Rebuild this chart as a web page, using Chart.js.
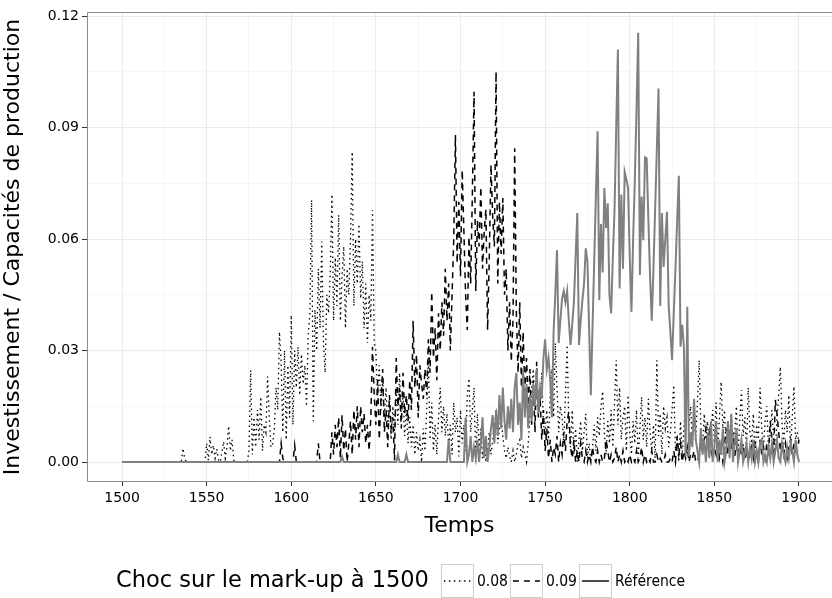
<!DOCTYPE html>
<html lang="fr">
<head>
<meta charset="utf-8">
<title>Choc sur le mark-up</title>
<script src="https://cdn.jsdelivr.net/npm/chart.js@4.4.1/dist/chart.umd.min.js"></script>
<style>
  html, body { margin: 0; padding: 0; background: #ffffff; }
  #wrap { width: 832px; height: 598px; overflow: hidden; }
</style>
</head>
<body>
<div id="wrap"><canvas id="chart-invest" width="832" height="598"></canvas></div>
<script>
// Investissement / capacités, en millièmes, une valeur par an de 1500 à 1900
const firstYear = 1500;

// choc de 0.08 sur le mark-up (pointillés)
const shock08 = [
  0, 0, 0, 0, 0, 0, 0, 0, 0, 0,
  0, 0, 0, 0, 0, 0, 0, 0, 0, 0,
  0, 0, 0, 0, 0, 0, 0, 0, 0, 0,
  0, 0, 0, 0, 0, 0, 3.7, 1, 0, 0,
  0, 0, 0, 0, 0, 0, 0, 0, 0, 0,
  5, 0.5, 6.8, 2, 4.5, 1, 3.5, 0.5, 0, 2.5,
  5.5, 1, 4, 9.7, 3, 6, 0.5, 0, 0, 0,
  0, 0, 0, 0, 0, 3, 24.7, 2, 12, 4,
  14, 6, 17.5, 3, 10, 8, 23, 12, 4, 5,
  9, 20, 14, 35, 27, 8, 30, 6, 26, 12,
  39.5, 10, 30, 20, 31, 18, 29, 21, 26, 15,
  34, 40, 70.5, 11, 41, 30, 52, 36, 59.3, 32,
  24, 45, 40, 50, 72, 38, 55, 42, 66.5, 38,
  50, 58, 36, 52, 45, 60, 83.5, 42, 60, 48,
  64, 44, 54, 36, 48, 32, 45, 38, 67.8, 32,
  30, 18, 26, 14, 22, 12, 20, 9, 17, 6,
  15, 8, 20, 10, 24, 12, 18, 7, 14, 5,
  12, 4, 10, 2, 8, 3, 6, 0, 9, 3,
  14, 28, 6, 16, 3, 10, 2, 12, 20, 8,
  15, 7, 13, 4, 10, 2, 16, 8, 12, 1.5,
  14, 5, 10, 3, 18, 22.5, 8, 14, 20, 0,
  13, 4, 9, 1, 6, 0, 3, 8, 2, 6,
  10, 13, 5, 9, 12, 7, 3, 1, 4, 1.5,
  0, 3, 0, 2, 5, 6, 1, 4, 2, 0,
  5, 12, 20, 25, 14, 22, 18, 16, 24, 10,
  8, 14, 6, 18, 25, 12, 32, 20, 8, 15,
  12, 5, 18, 31.5, 10, 4, 14, 2, 9, 0,
  6, 11, 3, 8, 13, 1, 5, 0, 4, 10,
  3, 12, 7, 15, 19, 8, 2, 11, 5, 14,
  4, 16, 27.4, 10, 20, 6, 12, 15, 3, 18,
  8, 2, 11, 5, 14, 1, 9, 17.5, 6, 12,
  4, 17, 8, 3, 10, 1, 27.4, 7, 13, 2,
  15, 9, 12, 4, 8, 14, 20.7, 3, 6, 0,
  11, 2, 9, 18, 26.6, 10, 15, 5, 12, 7,
  16, 27.4, 9, 4, 13, 6, 11, 2, 8, 14,
  5, 16, 3, 12, 21.6, 9, 14, 2, 10, 6,
  13, 4, 8, 15, 2, 11, 19.3, 7, 12, 3,
  20, 8, 5, 13, 2, 10, 6, 20, 9, 4,
  11, 15, 3, 8, 14, 6, 2, 12, 18, 25.6,
  10, 5, 14, 8, 18, 3, 12, 20.3, 6, 8,
  5
];

// choc de 0.09 (tirets)
const shock09 = [
  0, 0, 0, 0, 0, 0, 0, 0, 0, 0,
  0, 0, 0, 0, 0, 0, 0, 0, 0, 0,
  0, 0, 0, 0, 0, 0, 0, 0, 0, 0,
  0, 0, 0, 0, 0, 0, 0, 0, 0, 0,
  0, 0, 0, 0, 0, 0, 0, 0, 0, 0,
  0, 0, 0, 0, 0, 0, 0, 0, 0, 0,
  0, 0, 0, 0, 0, 0, 0, 0, 0, 0,
  0, 0, 0, 0, 0, 0, 0, 0, 0, 0,
  0, 0, 0, 0, 0, 0, 0, 0, 0, 0,
  0, 0, 0, 0, 5, 1, 0, 0, 0, 0,
  0, 0, 4.5, 0, 0, 0, 0, 0, 0, 0,
  0, 0, 0, 0, 0, 0, 5, 0, 0, 0,
  0, 0, 0, 0, 8, 2, 10, 4, 12, 1,
  12.6, 3, 9, 0, 5, 11, 2, 14, 6, 15,
  4, 15, 8, 13, 5, 10, 3, 12, 31, 18,
  10, 22, 6, 17, 25, 8, 14, 4, 18, 9,
  12, 0.5, 28, 15, 20, 9, 24, 13, 18, 11,
  22, 14, 38, 20, 29, 12, 26, 21, 17, 25,
  18, 33, 24, 45.8, 28, 36, 22, 40, 30, 43,
  34, 52, 38, 48, 30, 45, 60, 88, 53.5, 70,
  50, 78.6, 62, 45, 35.5, 60.6, 48, 72, 99.6, 46,
  65, 58, 74, 52, 62, 68, 35.5, 55, 80, 66,
  58, 105, 48, 70, 56, 71, 45, 52, 30, 43,
  27, 38, 84.4, 40, 24, 43, 20, 35, 19, 28,
  15, 25, 10, 22, 8, 27, 12, 18, 6, 14,
  3, 9, 1, 6, 0, 4, 2, 7, 0, 5,
  2, 8, 3, 11, 13.5, 4, 1, 6, 0, 3,
  0, 5, 1, 0, 3, 0, 2, 0, 4, 1,
  0, 3, 0, 2, 0, 1, 6, 3, 0, 2,
  0, 1, 4, 0, 2, 0, 3, 0, 1, 0,
  2, 0, 1, 0, 3, 0, 1, 4, 0, 2,
  0, 1, 0, 3, 0, 0, 2, 0, 1, 0,
  0, 2, 0, 0, 1, 0, 3, 0, 7, 2,
  5, 0, 3, 1, 4, 0, 2, 1, 3, 0,
  0, 2, 5, 3, 6, 9, 4, 8, 3, 1,
  4, 2, 6, 1, 3, 0, 5, 9, 2, 7,
  3, 8, 1, 6, 0, 4, 2, 5, 1, 3,
  0, 2, 4, 1, 5, 3, 0, 6, 2, 4,
  1, 5, 3, 11, 6, 2, 16.7, 13, 8, 3,
  6, 2, 5, 1, 4, 6, 2, 5, 3, 4,
  6
];

// trajectoire de référence (trait plein gris)
const reference = [
  0, 0, 0, 0, 0, 0, 0, 0, 0, 0,
  0, 0, 0, 0, 0, 0, 0, 0, 0, 0,
  0, 0, 0, 0, 0, 0, 0, 0, 0, 0,
  0, 0, 0, 0, 0, 0, 0, 0, 0, 0,
  0, 0, 0, 0, 0, 0, 0, 0, 0, 0,
  0, 0, 0, 0, 0, 0, 0, 0, 0, 0,
  0, 0, 0, 0, 0, 0, 0, 0, 0, 0,
  0, 0, 0, 0, 0, 0, 0, 0, 0, 0,
  0, 0, 0, 0, 0, 0, 0, 0, 0, 0,
  0, 0, 0, 0, 0, 0, 0, 0, 0, 0,
  0, 0, 0, 0, 0, 0, 0, 0, 0, 0,
  0, 0, 0, 0, 0, 0, 0, 0, 0, 0,
  0, 0, 0, 0, 0, 0, 0, 0, 0, 0,
  1.5, 0, 0, 0, 0, 0, 0, 0, 0, 0,
  0, 0, 0, 0, 0, 0, 0, 0, 0, 0,
  0, 0, 0, 0, 0, 0, 0, 0, 0, 0,
  0, 0, 0, 2, 0, 0, 0, 0, 2, 0,
  0, 0, 0, 0, 0, 0, 0, 0, 0, 0,
  0, 0, 0, 0, 0, 0, 0, 0, 0, 0,
  0, 0, 0, 6, 0, 0, 0, 0, 0, 0,
  0, 0, 0, 12, 0, 2, 7, 0, 4, 1,
  6, 0, 5, 12, 1, 7, 0, 4, 9, 12.6,
  5, 14, 7, 18, 9, 20, 11, 6, 15, 9,
  17, 8, 20, 24, 10, 16, 6, 25, 12, 21,
  9, 18, 11, 21, 15, 25, 13, 20, 17, 28,
  33, 25, 28, 22, 12, 35, 45, 57, 32, 38,
  44, 46, 43, 46, 38, 31.5, 37, 43, 55, 67,
  31.5, 38, 43.5, 48, 57.5, 54, 36, 18, 36, 54,
  72, 89, 43.5, 64, 51, 73.7, 63, 69.6, 45, 40,
  55, 67.8, 90, 111, 46.7, 72, 52, 78, 76, 73.7,
  55, 40.4, 60, 75.9, 95, 115.5, 50.3, 71.4, 59.7, 82,
  81.7, 65, 50, 38, 52, 68, 84, 100.5, 42, 67,
  52.5, 60, 67.3, 42, 35, 27.4, 40, 52, 65, 77,
  31, 36.9, 31, 1.5, 41.8, 1.5, 8, 4, 17, 6,
  3, 0, 9, 2, 6, 0, 8, 1, 11, 0,
  4, 11, 0, 6, 2, 9, 0, 3, 11, 1,
  13, 0, 5, 9, 0, 3, 6, 0, 2, 5,
  0, 4, 1, 6, 0, 3, 0, 5, 6, 0,
  2, 0, 4, 1, 5, 0, 3, 6, 1, 0,
  5, 2, 0, 4, 1, 5, 3, 0, 6, 2,
  0
];

const seriesLabels = ["0.08", "0.09", "Référence"];
const legendTitle = "Choc sur le mark-up à 1500";
const xTitle = "Temps";
const yTitle = "Investissement / Capacités de production";

// graduations : les majeures portent un libellé, les mineures seulement une grille
const xTickValues = [1500, 1525, 1550, 1575, 1600, 1625, 1650, 1675, 1700, 1725, 1750, 1775, 1800, 1825, 1850, 1875, 1900];
const xTickLabels = ["1500", "", "1550", "", "1600", "", "1650", "", "1700", "", "1750", "", "1800", "", "1850", "", "1900"];
const yTickValues = [0, 15, 30, 45, 60, 75, 90, 105, 120];
const yTickLabels = ["0.00", "", "0.03", "", "0.06", "", "0.09", "", "0.12"];

const years = shock08.map((_, i) => firstYear + i);

const FONT = '"DejaVu Sans", sans-serif';
const GRID_MAJOR = "#ebebeb";
const GRID_MINOR = "#f6f6f6";
const TICK_COLOR = "#333333";

function isMajor(values, labels, value) {
  const i = values.indexOf(value);
  return i >= 0 && labels[i] !== "";
}

// cadre gris du panneau ; le bord droit tombe juste hors du canvas
const panelBorder = {
  id: "panelBorder",
  afterDatasetsDraw(chart) {
    const { ctx, chartArea } = chart;
    const l = chartArea.left + 0.5;
    const t = chartArea.top + 0.5;
    const b = chartArea.bottom - 0.5;
    ctx.save();
    ctx.strokeStyle = "#8c8c8c";
    ctx.lineWidth = 1;
    ctx.beginPath();
    ctx.moveTo(chartArea.right + 2, t);
    ctx.lineTo(l, t);
    ctx.lineTo(l, b);
    ctx.lineTo(chartArea.right + 2, b);
    ctx.stroke();
    ctx.restore();
  },
};

// légende en bas : titre puis une case par type de trait
const bottomLegend = {
  id: "bottomLegend",
  afterDraw(chart) {
    const ctx = chart.ctx;
    const y = 581;
    ctx.save();
    ctx.textBaseline = "middle";
    ctx.fillStyle = "#000";
    ctx.font = "22.5px " + FONT;
    let x = 116;
    ctx.fillText(legendTitle, x, y);
    x += ctx.measureText(legendTitle).width + 12;

    chart.data.datasets.forEach((ds) => {
      const w = 33;
      ctx.fillStyle = "#ffffff";
      ctx.fillRect(x, y - 17, w, 34);
      ctx.strokeStyle = "#cccccc";
      ctx.lineWidth = 1;
      ctx.strokeRect(x + 0.5, y - 16.5, w - 1, 33);

      ctx.beginPath();
      ctx.setLineDash(ds.borderDash || []);
      ctx.strokeStyle = "#000";
      ctx.lineWidth = 1.4;
      ctx.moveTo(x + 3, y);
      ctx.lineTo(x + w - 3, y);
      ctx.stroke();
      ctx.setLineDash([]);

      x += w + 3;
      ctx.fillStyle = "#000";
      ctx.font = '15.5px "DejaVu Sans Condensed", ' + FONT;
      ctx.fillText(ds.label, x, y + 1);
      x += ctx.measureText(ds.label).width + 2;
    });
    ctx.restore();
  },
};

const ctx = document.getElementById("chart-invest").getContext("2d");

new Chart(ctx, {
  type: "line",
  data: {
    labels: years,
    datasets: [
      {
        label: seriesLabels[0],
        data: shock08,
        borderColor: "#000000",
        borderWidth: 1.3,
        borderDash: [1.5, 3.5],
        order: 2,
      },
      {
        label: seriesLabels[1],
        data: shock09,
        borderColor: "#000000",
        borderWidth: 1.5,
        borderDash: [6, 5],
        order: 1,
      },
      {
        label: seriesLabels[2],
        data: reference,
        borderColor: "#808080",
        borderWidth: 2,
        order: 0,
      },
    ],
  },
  plugins: [panelBorder, bottomLegend],
  options: {
    responsive: false,
    animation: false,
    devicePixelRatio: 1,
    elements: {
      point: { radius: 0, hoverRadius: 0 },
      line: { tension: 0, fill: false, borderCapStyle: "butt", borderJoinStyle: "miter" },
    },
    layout: { padding: { top: 12, right: 0, bottom: 46, left: 0 } },
    scales: {
      x: {
        type: "linear",
        min: 1479.3,
        max: 1919.5,
        afterBuildTicks: (scale) => {
          scale.ticks = xTickValues.map((v) => ({ value: v }));
        },
        afterFit: (scale) => {
          scale.height = 70;
        },
        ticks: {
          autoSkip: false,
          maxRotation: 0,
          padding: 4,
          color: "#000",
          font: { family: FONT, size: 14 },
          callback: (value) => xTickLabels[xTickValues.indexOf(value)] ?? "",
        },
        grid: {
          tickLength: 4,
          lineWidth: 1,
          color: (c) => (c.tick && isMajor(xTickValues, xTickLabels, c.tick.value) ? GRID_MAJOR : GRID_MINOR),
          tickColor: (c) => (c.tick && isMajor(xTickValues, xTickLabels, c.tick.value) ? TICK_COLOR : "rgba(0,0,0,0)"),
        },
        border: { display: false },
        title: {
          display: true,
          text: xTitle,
          color: "#000",
          font: { family: FONT, size: 22 },
          padding: { top: 0, bottom: 13 },
        },
      },
      y: {
        type: "linear",
        min: -5.38,
        max: 121.08,
        afterBuildTicks: (scale) => {
          scale.ticks = yTickValues.map((v) => ({ value: v }));
        },
        afterFit: (scale) => {
          scale.width = 87;
        },
        ticks: {
          padding: 3,
          color: "#000",
          font: { family: FONT, size: 14 },
          callback: (value) => yTickLabels[yTickValues.indexOf(value)] ?? "",
        },
        grid: {
          tickLength: 5,
          lineWidth: 1,
          color: (c) => (c.tick && isMajor(yTickValues, yTickLabels, c.tick.value) ? GRID_MAJOR : GRID_MINOR),
          tickColor: (c) => (c.tick && isMajor(yTickValues, yTickLabels, c.tick.value) ? TICK_COLOR : "rgba(0,0,0,0)"),
        },
        border: { display: false },
        title: {
          display: true,
          text: yTitle,
          color: "#000",
          font: { family: FONT, size: 22 },
          padding: { top: 0, bottom: 0 },
        },
      },
    },
    plugins: {
      legend: { display: false },
      tooltip: { enabled: false },
    },
  },
});
</script>
</body>
</html>
